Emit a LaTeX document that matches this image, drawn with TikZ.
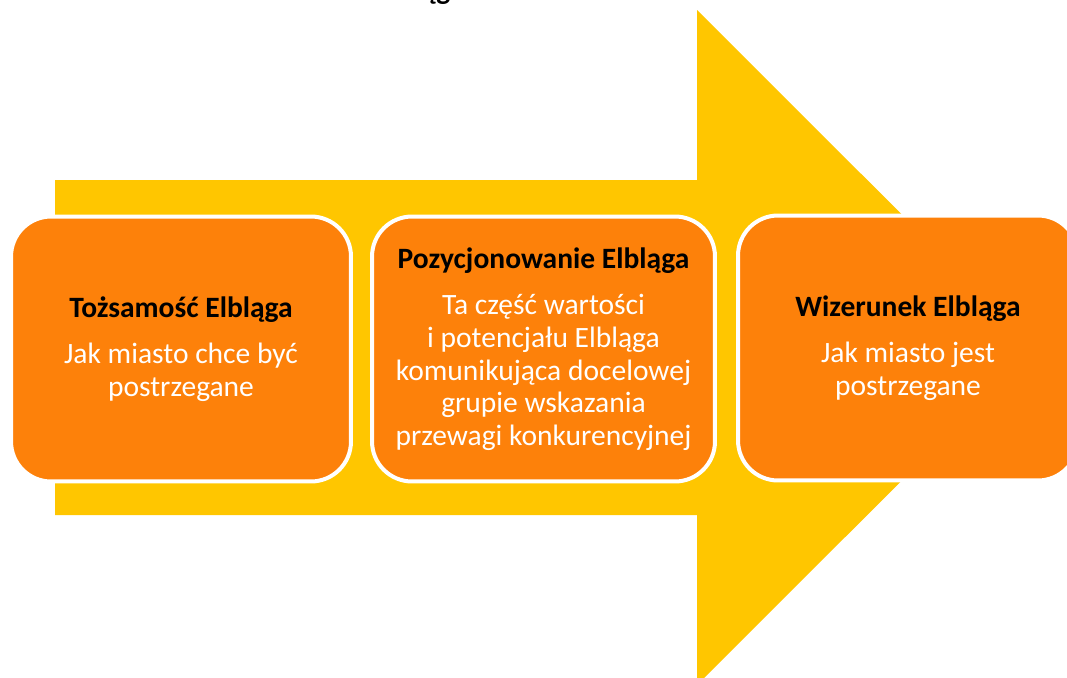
\documentclass[tikz,border=0pt]{standalone}
\usepackage{fontspec}
\setmainfont{Carlito}
\usepackage{tikz}

\definecolor{arrowyellow}{RGB}{255,198,0}
\definecolor{boxorange}{RGB}{253,129,10}

\tikzset{
  stagebox/.style={draw=white,line width=0.08cm,fill=boxorange,rounded corners=0.8cm,
    minimum width=6.8cm,minimum height=5.3cm,align=center,inner sep=0pt,
    text=white,font=\fontsize{16.8}{18.6}\selectfont},
  headtext/.style={font=\fontsize{16.8}{18.6}\selectfont\bfseries,text=black},
}
\newcommand{\stagetitle}[1]{\textcolor{black}{\bfseries #1}}

\begin{document}
\begin{tikzpicture}[x=0.02cm,y=-0.02cm]
\useasboundingbox (0,0) rectangle (1067,677);
\fill[arrowyellow] (55,180) -- (697,180) -- (697,10) -- (1035,347.5) -- (697,685) -- (697,515) -- (55,515) -- cycle;
\node[headtext,anchor=base] (cut) at (436,-0.5) {ąg};
\node[stagebox] (ident) at (181,349) {\stagetitle{Tożsamość Elbląga}\\[8pt]
  Jak miasto chce być\\postrzegane};
\node[stagebox,minimum width=6.86cm] (posit) at (543.5,349) {\stagetitle{Pozycjonowanie Elbląga}\\[8pt]
  Ta część wartości\\i potencjału Elbląga\\komunikująca docelowej\\grupie wskazania\\przewagi konkurencyjnej};
\node[stagebox] (image) at (908,348) {\stagetitle{Wizerunek Elbląga}\\[8pt]
  Jak miasto jest\\postrzegane};
\end{tikzpicture}
\end{document}
